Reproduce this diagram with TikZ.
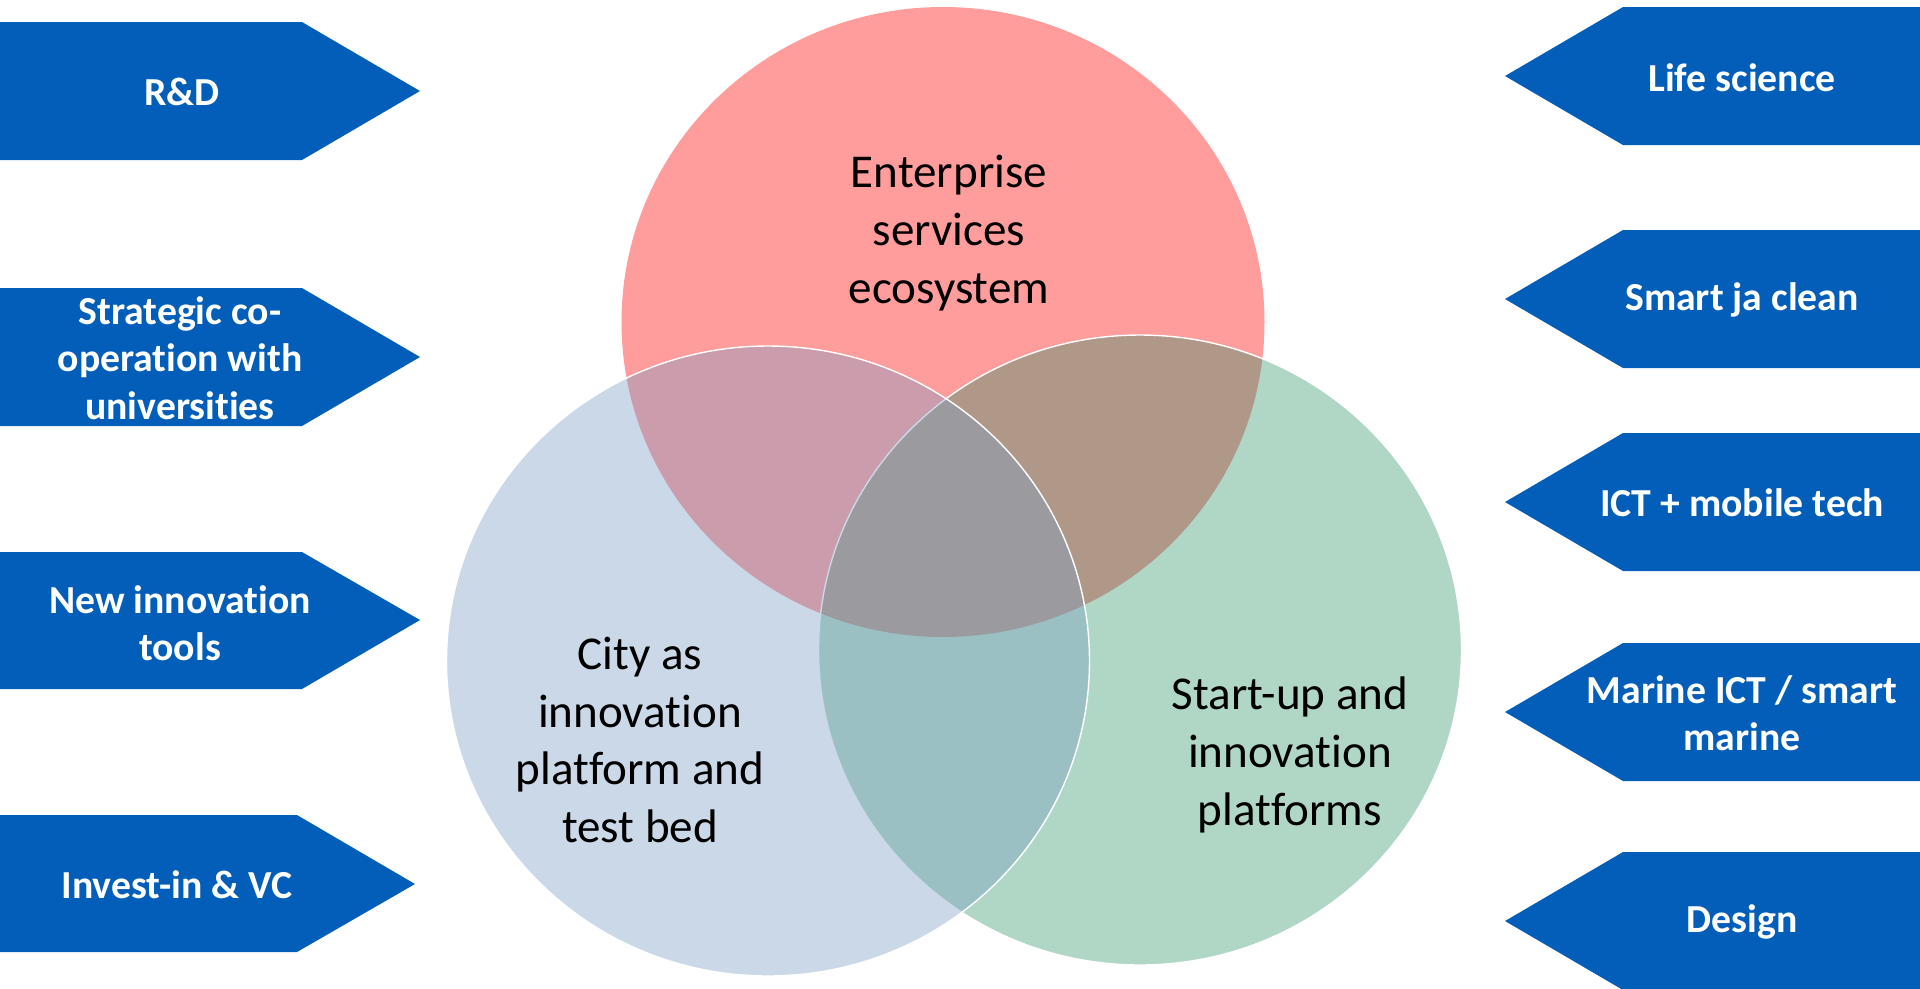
\documentclass[tikz,border=0pt]{standalone}
\usepackage{fontspec}
\setmainfont{Carlito}[Ligatures={TeX,NoCommon}]

\definecolor{tagblue}{RGB}{2,94,184}
\definecolor{vennred}{RGB}{255,156,156}
\definecolor{venngreen}{RGB}{44,148,103}
\definecolor{vennblue}{RGB}{125,158,195}

\begin{document}
\begin{tikzpicture}[x=0.1mm, y=-0.1mm,
    tag/.style={fill=tagblue},
    tagtext/.style={text=white, align=center, inner sep=0pt,
        font=\bfseries\fontsize{11.3}{13.5}\selectfont},
    venntext/.style={align=center, inner sep=0pt,
        font=\fontsize{13.4}{16.4}\selectfont},
    venn/.style={x radius=32.15mm, y radius=31.5mm}]
    \useasboundingbox (0,0) rectangle (1920,988);

    % Venn circles: red first, then green, blue on top
    \fill[vennred] (943,322) circle[venn];
    \draw[white, line width=0.4pt, fill=venngreen, fill opacity=0.375]
        (1140,650) circle[venn];
    \draw[white, line width=0.4pt, fill=vennblue, fill opacity=0.4]
        (768,661) circle[venn];

    % Circle labels
    \node[venntext] (enterprise) at (949,233) {Enterprise\\services\\ecosystem};
    \node[venntext] (city) at (640,740) {City as\\innovation\\platform and\\test bed};
    \node[venntext] (startup) at (1290,755) {Start-up and\\innovation\\platforms};

    % Left tags, pointing right
    \fill[tag] (-2,22) -- (302,22) -- (420,91) -- (302,160) -- (-2,160) -- cycle;
    \node[tagtext] (rd) at (182,92) {R\&D};

    \fill[tag] (-2,288) -- (302,288) -- (420,357) -- (302,426) -- (-2,426) -- cycle;
    \node[tagtext] (strategic) at (180,358) {Strategic co-\\operation with\\universities};

    \fill[tag] (-2,552) -- (302,552) -- (420,620) -- (302,689) -- (-2,689) -- cycle;
    \node[tagtext] (tools) at (180,623) {New innovation\\tools};

    \fill[tag] (-2,815) -- (297,815) -- (415,884) -- (297,952) -- (-2,952) -- cycle;
    \node[tagtext] (invest) at (177,885) {Invest-in \& VC};

    % Right tags, pointing left
    \fill[tag] (1922,7) -- (1623,7) -- (1505,76) -- (1623,145) -- (1922,145) -- cycle;
    \node[tagtext] (life) at (1742,78) {Life science};

    \fill[tag] (1922,230) -- (1623,230) -- (1505,299) -- (1623,368) -- (1922,368) -- cycle;
    \node[tagtext] (smart) at (1742,300) {Smart ja clean};

    \fill[tag] (1922,433) -- (1623,433) -- (1505,502) -- (1623,571) -- (1922,571) -- cycle;
    \node[tagtext] (ict) at (1742,503) {ICT + mobile tech};

    \fill[tag] (1922,643) -- (1623,643) -- (1505,712) -- (1623,781) -- (1922,781) -- cycle;
    \node[tagtext] (marine) at (1742,713) {Marine ICT / smart\\marine};

    \fill[tag] (1922,852) -- (1623,852) -- (1505,921) -- (1623,990) -- (1922,990) -- cycle;
    \node[tagtext] (design) at (1742,922) {Design};
\end{tikzpicture}
\end{document}
